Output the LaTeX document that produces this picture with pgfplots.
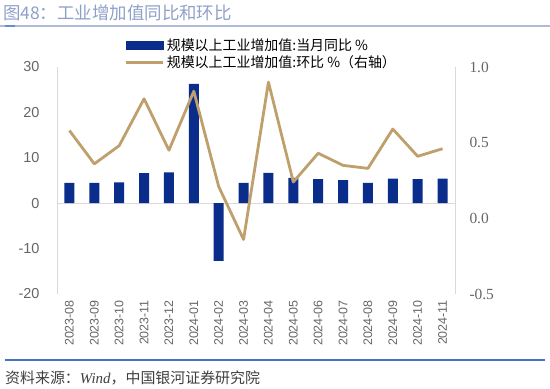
\documentclass[border=0pt]{standalone}
\usepackage{fontspec}
\setmainfont{Liberation Serif}
\newfontfamily\cjk{Noto Sans CJK SC}
\newfontfamily\sansf{Liberation Sans}
\usepackage{pgfplots}
\pgfplotsset{compat=1.18}
\definecolor{barblue}{HTML}{0A2D8C}
\definecolor{linetan}{HTML}{BF9F6B}
\definecolor{titlec}{HTML}{8FA0C8}
\definecolor{titleline}{HTML}{AEBBD9}
\definecolor{srcline}{HTML}{4472C4}
\definecolor{tickc}{HTML}{666666}
\definecolor{axc}{HTML}{D9D9D9}
\pgfplotstableread{
x yoy mom
0 4.5 0.58
1 4.5 0.36
2 4.6 0.48
3 6.6 0.79
4 6.8 0.45
5 26.3 0.84
6 -12.7 0.21
7 4.5 -0.14
8 6.7 0.90
9 5.6 0.24
10 5.3 0.43
11 5.1 0.35
12 4.5 0.33
13 5.4 0.59
14 5.3 0.41
15 5.4 0.46
}\datatable
\begin{document}
\begin{tikzpicture}
\useasboundingbox (0bp,0bp) rectangle (550bp,389bp);
\node[anchor=west, text=titlec, inner sep=0pt, font=\cjk\fontsize{17.5}{18}\selectfont] at (3bp,376bp) {图48：工业增加值同比和环比};
\draw[color=titleline, line width=1.2bp] (0bp,363bp) -- (550bp,363bp);
\draw[color=srcline!80, line width=1.6bp] (5bp,363bp) -- (15bp,363bp);
\draw[color=srcline, line width=1.2bp] (5bp,29bp) -- (545bp,29bp);
\node[anchor=west, text=black!75, inner sep=0pt, font=\cjk\fontsize{15}{15}\selectfont] at (5bp,11bp) {资料来源：{\rmfamily\itshape Wind}，中国银河证券研究院};
\begin{axis}[
  at={(57bp,95bp)}, anchor=south west,
  width=398bp, height=227bp, scale only axis,
  xmin=-0.5, xmax=15.5, ymin=-20, ymax=30,
  axis y line*=left, axis x line*=bottom,
  x axis line style={draw=none},
  y axis line style={draw=axc, line width=0.8bp},
  major tick length=0pt,
  ytick={-20,-10,0,10,20,30},
  xtick={0,...,15},
  xticklabels={2023-08,2023-09,2023-10,2023-11,2023-12,2024-01,2024-02,2024-03,2024-04,2024-05,2024-06,2024-07,2024-08,2024-09,2024-10,2024-11},
  x tick label style={rotate=90, anchor=east, font=\sansf\fontsize{12.5}{13}\selectfont, text=tickc, inner sep=1pt},
  y tick label style={/pgf/number format/assume math mode=true, font=\sansf\fontsize{14.5}{15}\selectfont, text=tickc},
  xticklabel shift=5bp,
  yticklabel shift=14bp,
  clip=false,
]
\draw[axc, line width=0.8bp] (axis cs:-0.5,0) -- (axis cs:15.5,0);
\addplot[ybar, bar width=10bp, fill=barblue, draw=none, bar shift=0pt] table[x=x, y=yoy] {\datatable};
\end{axis}
\begin{axis}[
  at={(57bp,95bp)}, anchor=south west,
  width=398bp, height=227bp, scale only axis,
  xmin=-0.5, xmax=15.5, ymin=-0.5, ymax=1.0,
  axis y line*=right, axis x line=none,
  y axis line style={draw=axc, line width=0.8bp},
  major tick length=0pt,
  ytick={-0.5,0,0.5,1.0},
  y tick label style={/pgf/number format/assume math mode=true, /pgf/number format/fixed, /pgf/number format/fixed zerofill, /pgf/number format/precision=1, font=\rmfamily\fontsize{15.5}{16}\selectfont, text=tickc, anchor=west},
  yticklabel shift=11bp,
  legend style={at={(0.168,1.14)}, anchor=north west, draw=none, fill=none,
    font=\cjk\fontsize{14}{15}\selectfont, row sep=0bp, inner sep=1pt},
  legend cell align=left,
  clip=false,
]
\addlegendimage{legend image code/.code={\fill[barblue] (0bp,-4bp) rectangle (37bp,4bp);}}
\addlegendentry{规模以上工业增加值:当月同比 \%}
\addplot[linetan, line width=2.8bp, line join=round, legend image code/.code={\draw[linetan, line width=2.8bp] (0bp,0bp) -- (37bp,0bp);}] table[x=x, y=mom] {\datatable};
\addlegendentry{规模以上工业增加值:环比 \%（右轴）}
\end{axis}
\end{tikzpicture}
\end{document}
